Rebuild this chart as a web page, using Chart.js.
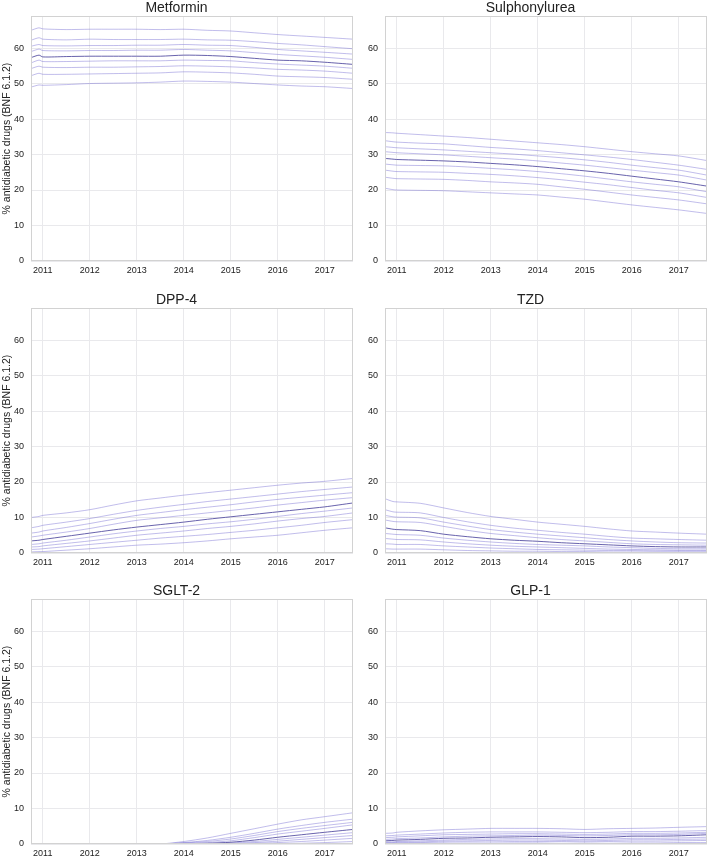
<!DOCTYPE html>
<html>
<head>
<meta charset="utf-8">
<script src="https://cdn.jsdelivr.net/npm/chart.js@4.4.1/dist/chart.umd.min.js"></script>
<style>
  body { margin: 0; background: #fff; overflow: hidden; width: 709px; height: 856px; position: relative; }
  canvas { position: absolute; }
</style>
</head>
<body>
<canvas id="c0" width="355" height="283" style="left:0px;top:0px"></canvas>
<canvas id="c1" width="355" height="283" style="left:354px;top:0px"></canvas>
<canvas id="c2" width="355" height="283" style="left:0px;top:292px"></canvas>
<canvas id="c3" width="355" height="283" style="left:354px;top:292px"></canvas>
<canvas id="c4" width="355" height="283" style="left:0px;top:583px"></canvas>
<canvas id="c5" width="355" height="283" style="left:354px;top:583px"></canvas>
<script>
// x positions (decimal years) of the sampled points
const years = [2010.75, 2010.92, 2011.0, 2011.5, 2012.0, 2012.5, 2013.0, 2013.5, 2014.0, 2014.5, 2015.0, 2015.5, 2016.0, 2016.5, 2017.0, 2017.6];
const yearTicks = [2011, 2012, 2013, 2014, 2015, 2016, 2017];
const pctTicks = [0, 10, 20, 30, 40, 50, 60];
const titles = ['Metformin', 'Sulphonylurea', 'DPP-4', 'TZD', 'SGLT-2', 'GLP-1'];
const yLabel = '% antidiabetic drugs (BNF 6.1.2)';

// deciles, 90th first ... 10th last (index 4 = median)
const metformin = [
  [65.0, 65.7, 65.4, 65.2, 65.3, 65.3, 65.3, 65.2, 65.3, 65.0, 64.8, 64.3, 63.8, 63.4, 63.0, 62.5],
  [62.2, 62.9, 62.5, 62.3, 62.5, 62.4, 62.4, 62.4, 62.5, 62.3, 62.2, 61.8, 61.3, 60.9, 60.4, 59.8],
  [60.5, 61.0, 60.7, 60.6, 60.7, 60.7, 60.8, 60.8, 61.0, 60.8, 60.7, 60.2, 59.6, 59.2, 58.8, 58.3],
  [59.0, 59.7, 59.3, 59.2, 59.3, 59.3, 59.4, 59.4, 59.6, 59.4, 59.2, 58.7, 58.2, 57.8, 57.4, 56.8],
  [57.3, 58.0, 57.5, 57.6, 57.7, 57.7, 57.7, 57.7, 58.0, 57.9, 57.6, 57.1, 56.6, 56.4, 56.0, 55.4],
  [55.8, 56.6, 56.2, 56.2, 56.3, 56.4, 56.4, 56.4, 56.6, 56.5, 56.4, 55.9, 55.5, 55.2, 54.9, 54.3],
  [54.2, 54.9, 54.6, 54.5, 54.6, 54.6, 54.7, 54.8, 55.0, 54.9, 54.7, 54.4, 54.0, 53.8, 53.5, 52.9],
  [52.2, 52.9, 52.6, 52.6, 52.7, 52.8, 52.9, 53.0, 53.3, 53.2, 53.0, 52.6, 52.1, 51.9, 51.7, 51.2],
  [49.0, 49.6, 49.5, 49.7, 50.0, 50.1, 50.2, 50.4, 50.7, 50.6, 50.4, 50.0, 49.6, 49.3, 49.1, 48.6]
];
const sulphonylurea = [
  [36.2, 36.1, 36.0, 35.6, 35.2, 34.8, 34.3, 33.8, 33.3, 32.8, 32.2, 31.5, 30.8, 30.2, 29.6, 28.3],
  [33.9, 33.6, 33.5, 33.2, 33.0, 32.5, 32.0, 31.6, 31.1, 30.5, 29.9, 29.3, 28.6, 27.8, 27.0, 25.8],
  [32.2, 32.0, 31.9, 31.6, 31.3, 30.9, 30.5, 30.1, 29.6, 29.1, 28.5, 27.8, 27.0, 26.3, 25.6, 24.2],
  [30.8, 30.6, 30.5, 30.2, 29.9, 29.5, 29.1, 28.7, 28.2, 27.6, 27.0, 26.3, 25.6, 24.9, 24.2, 22.8],
  [28.9, 28.7, 28.6, 28.4, 28.2, 27.9, 27.5, 27.1, 26.6, 26.0, 25.4, 24.7, 23.9, 23.1, 22.3, 21.1],
  [27.3, 27.1, 27.0, 26.9, 26.8, 26.5, 26.1, 25.7, 25.2, 24.6, 23.9, 23.1, 22.3, 21.6, 20.9, 19.5],
  [25.6, 25.3, 25.2, 25.1, 25.0, 24.7, 24.4, 24.0, 23.5, 22.9, 22.2, 21.5, 20.7, 19.9, 19.2, 17.9],
  [23.6, 23.3, 23.2, 23.1, 23.0, 22.7, 22.3, 22.0, 21.6, 20.9, 20.2, 19.4, 18.6, 17.9, 17.2, 16.1],
  [20.5, 20.1, 20.0, 19.9, 19.8, 19.5, 19.2, 18.9, 18.6, 18.0, 17.4, 16.6, 15.8, 15.1, 14.4, 13.4]
];
const dpp4 = [
  [10.0, 10.3, 10.6, 11.3, 12.2, 13.5, 14.7, 15.5, 16.3, 17.0, 17.7, 18.4, 19.1, 19.7, 20.2, 21.0],
  [7.1, 7.5, 7.8, 8.7, 9.7, 10.9, 12.0, 12.9, 13.7, 14.5, 15.2, 15.9, 16.6, 17.3, 17.9, 18.6],
  [5.6, 5.9, 6.2, 7.2, 8.3, 9.5, 10.6, 11.4, 12.2, 12.9, 13.6, 14.4, 15.1, 15.7, 16.3, 17.0],
  [4.5, 4.8, 5.0, 5.9, 6.9, 8.1, 9.2, 9.9, 10.6, 11.3, 12.0, 12.7, 13.5, 14.2, 14.9, 15.6],
  [3.4, 3.6, 3.8, 4.7, 5.6, 6.5, 7.3, 8.0, 8.7, 9.5, 10.2, 10.9, 11.6, 12.3, 13.0, 14.1],
  [2.4, 2.6, 2.8, 3.6, 4.5, 5.4, 6.2, 6.9, 7.5, 8.2, 8.8, 9.5, 10.3, 11.1, 11.8, 12.7],
  [1.7, 1.8, 2.0, 2.7, 3.4, 4.2, 5.0, 5.6, 6.2, 6.9, 7.5, 8.2, 9.0, 9.7, 10.3, 11.3],
  [1.0, 1.1, 1.2, 1.8, 2.4, 3.0, 3.6, 4.2, 4.7, 5.2, 5.8, 6.4, 7.1, 7.8, 8.6, 9.4],
  [0.3, 0.4, 0.4, 0.8, 1.2, 1.7, 2.2, 2.5, 2.9, 3.4, 4.0, 4.5, 5.0, 5.7, 6.4, 7.1]
];
const tzd = [
  [15.3, 14.5, 14.4, 14.0, 12.7, 11.4, 10.3, 9.5, 8.7, 8.1, 7.5, 6.8, 6.2, 5.9, 5.6, 5.3],
  [12.2, 11.6, 11.5, 11.3, 10.0, 8.8, 7.8, 7.0, 6.4, 5.8, 5.3, 4.7, 4.2, 4.0, 3.8, 3.6],
  [10.6, 10.2, 10.1, 9.9, 8.7, 7.6, 6.6, 5.9, 5.3, 4.8, 4.3, 3.8, 3.4, 3.1, 2.9, 2.8],
  [9.3, 8.9, 8.8, 8.6, 7.5, 6.4, 5.5, 4.9, 4.3, 3.8, 3.4, 3.0, 2.6, 2.4, 2.3, 2.2],
  [7.1, 6.7, 6.6, 6.3, 5.3, 4.6, 4.0, 3.6, 3.3, 2.9, 2.6, 2.3, 2.0, 1.8, 1.7, 1.7],
  [5.5, 5.3, 5.2, 5.0, 4.2, 3.6, 3.1, 2.7, 2.4, 2.2, 2.0, 1.7, 1.5, 1.3, 1.2, 1.2],
  [4.1, 3.9, 3.8, 3.7, 3.1, 2.6, 2.2, 1.9, 1.7, 1.5, 1.3, 1.1, 1.0, 0.9, 0.8, 0.8],
  [2.6, 2.5, 2.4, 2.4, 2.0, 1.7, 1.4, 1.2, 1.0, 0.9, 0.8, 0.7, 0.7, 0.6, 0.6, 0.6],
  [1.2, 1.1, 1.1, 1.1, 0.9, 0.7, 0.6, 0.5, 0.5, 0.4, 0.4, 0.3, 0.3, 0.3, 0.3, 0.3]
];
const sglt2 = [
  [0, 0, 0, 0, 0, 0, 0, 0, 0.7, 1.7, 3.0, 4.3, 5.6, 6.8, 7.7, 8.8],
  [0, 0, 0, 0, 0, 0, 0, 0, 0.4, 1.0, 1.9, 3.0, 4.2, 5.2, 6.1, 7.0],
  [0, 0, 0, 0, 0, 0, 0, 0, 0.3, 0.7, 1.4, 2.4, 3.5, 4.4, 5.2, 6.1],
  [0, 0, 0, 0, 0, 0, 0, 0, 0.2, 0.4, 0.9, 1.8, 2.8, 3.6, 4.4, 5.4],
  [0, 0, 0, 0, 0, 0, 0, 0, 0.1, 0.2, 0.5, 1.1, 1.9, 2.6, 3.3, 4.1],
  [0, 0, 0, 0, 0, 0, 0, 0, 0, 0.1, 0.3, 0.7, 1.3, 1.9, 2.5, 3.2],
  [0, 0, 0, 0, 0, 0, 0, 0, 0, 0.05, 0.1, 0.4, 0.8, 1.3, 1.8, 2.4],
  [0, 0, 0, 0, 0, 0, 0, 0, 0, 0, 0.05, 0.2, 0.4, 0.7, 1.1, 1.6],
  [0, 0, 0, 0, 0, 0, 0, 0, 0, 0, 0, 0.05, 0.1, 0.2, 0.4, 0.7]
];
const glp1 = [
  [3.0, 3.1, 3.3, 3.7, 4.0, 4.2, 4.4, 4.4, 4.4, 4.3, 4.1, 4.3, 4.4, 4.5, 4.7, 4.9],
  [2.3, 2.4, 2.5, 2.8, 3.1, 3.3, 3.4, 3.4, 3.4, 3.3, 3.2, 3.3, 3.5, 3.5, 3.6, 3.8],
  [1.8, 1.9, 2.0, 2.3, 2.6, 2.7, 2.8, 2.9, 2.9, 2.8, 2.7, 2.8, 3.0, 3.0, 3.1, 3.3],
  [1.3, 1.4, 1.5, 1.7, 2.0, 2.2, 2.3, 2.4, 2.5, 2.4, 2.3, 2.4, 2.6, 2.6, 2.7, 3.0],
  [0.9, 1.0, 1.1, 1.3, 1.6, 1.7, 1.9, 2.0, 2.1, 2.0, 1.8, 1.9, 2.2, 2.2, 2.3, 2.6],
  [0.6, 0.6, 0.7, 0.9, 1.1, 1.3, 1.4, 1.5, 1.5, 1.4, 1.3, 1.4, 1.6, 1.6, 1.7, 1.9],
  [0.4, 0.4, 0.5, 0.6, 0.8, 0.9, 1.0, 1.1, 1.1, 1.0, 0.9, 1.0, 1.2, 1.2, 1.3, 1.4],
  [0.2, 0.2, 0.3, 0.4, 0.5, 0.6, 0.6, 0.7, 0.7, 0.7, 0.6, 0.7, 0.8, 0.8, 0.9, 1.0],
  [0.0, 0.0, 0.0, 0.1, 0.1, 0.2, 0.2, 0.3, 0.3, 0.2, 0.2, 0.2, 0.3, 0.3, 0.4, 0.4]
];

const panels = [metformin, sulphonylurea, dpp4, tzd, sglt2, glp1];

const FONT = "'Liberation Sans', Arial, Helvetica, sans-serif";
const LIGHT = 'rgba(100, 90, 205, 0.4)';
const DARK = 'rgba(78, 70, 158, 0.85)';

// caixa cinza em volta da área do gráfico
const frame = {
  id: 'frame',
  afterDraw(chart) {
    const a = chart.chartArea, ctx = chart.ctx;
    ctx.save();
    ctx.strokeStyle = '#d2d2d2';
    ctx.lineWidth = 1;
    ctx.strokeRect(Math.round(a.left) + 0.5, Math.round(a.top) + 0.5, Math.round(a.right - a.left) - 1, Math.round(a.bottom - a.top) - 1);
    ctx.restore();
  }
};

panels.forEach(function(rows, p) {
  const datasets = rows.map(function(vals, i) {
    return {
      label: 'p' + (90 - i * 10),
      data: vals.map((v, k) => ({ x: years[k], y: v })),
      borderColor: i === 4 ? DARK : LIGHT,
      borderWidth: 1,
      pointRadius: 0,
      tension: 0.25,
      fill: false,
      order: i === 4 ? 0 : 1
    };
  });

  new Chart(document.getElementById('c' + p), {
    type: 'line',
    data: { datasets: datasets },
    options: {
      responsive: false,
      animation: false,
      devicePixelRatio: 1,
      layout: { padding: { top: 0, right: 2, bottom: 0, left: 0 } },
      plugins: {
        legend: { display: false },
        tooltip: { enabled: false },
        title: {
          display: true,
          text: titles[p],
          color: '#222',
          font: { family: FONT, size: 14, weight: 'normal', lineHeight: 1.15 },
          padding: { top: 0, bottom: 0 }
        }
      },
      scales: {
        x: {
          type: 'linear',
          min: 2010.75,
          max: 2017.6,
          afterBuildTicks: s => { s.ticks = yearTicks.map(v => ({ value: v })); },
          afterFit: s => { s.height = 22; },
          ticks: { color: '#222', font: { family: FONT, size: 9 }, padding: 4, maxRotation: 0, callback: v => String(v) },
          grid: { color: '#e9e9ec', drawTicks: false },
          border: { display: false }
        },
        y: {
          min: 0,
          max: 69,
          afterBuildTicks: s => { s.ticks = pctTicks.map(v => ({ value: v })); },
          afterFit: s => { s.width = 31; },
          ticks: { color: '#222', font: { family: FONT, size: 9 }, padding: 7 },
          grid: { color: '#e9e9ec', drawTicks: false },
          border: { display: false },
          title: {
            display: p % 2 === 0,
            text: yLabel,
            color: '#222',
            font: { family: FONT, size: 10.5 },
            padding: { top: 1, bottom: 0 }
          }
        }
      }
    },
    plugins: [frame]
  });
});
</script>
</body>
</html>
